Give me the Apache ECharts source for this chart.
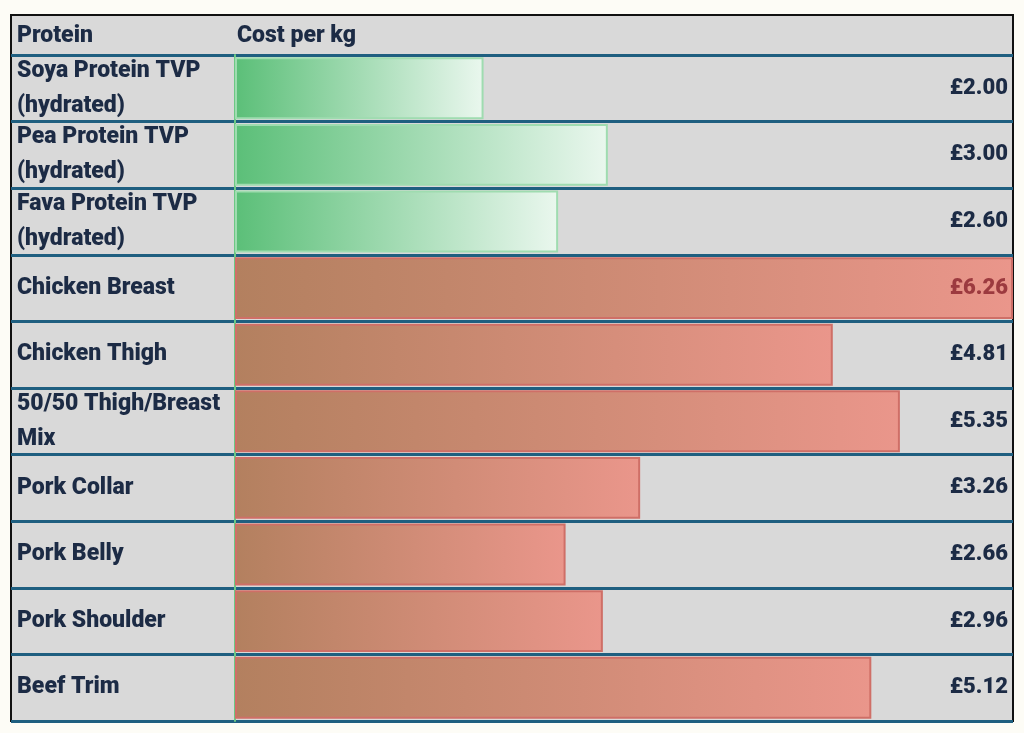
<!DOCTYPE html>
<html><head><meta charset="utf-8">
<script src="https://cdn.jsdelivr.net/npm/echarts@6/dist/echarts.min.js"></script>
<style>html,body{margin:0;padding:0;background:#fdfcf6}#c{width:1024px;height:733px}</style>
</head><body><div id="c"></div>
<script>
const categories = ['Soya Protein TVP\n(hydrated)','Pea Protein TVP\n(hydrated)','Fava Protein TVP\n(hydrated)','Chicken Breast','Chicken Thigh','50/50 Thigh/Breast\nMix','Pork Collar','Pork Belly','Pork Shoulder','Beef Trim'];
const costs = [2.00, 3.00, 2.60, 6.26, 4.81, 5.35, 3.26, 2.66, 2.96, 5.12];
const kinds = ['plant','plant','plant','meat','meat','meat','meat','meat','meat','meat'];
const headers = ['Protein','Cost per kg'];
const valueLabels = costs.map(v => '£' + v.toFixed(2));

const FONT = 'Roboto';
const TXT = '#1c2b45';
const SEP = '#1f5f80';

function grad(kind){
  return kind === 'plant'
    ? new echarts.graphic.LinearGradient(0,0,1,0,[{offset:0,color:'#5bbf78'},{offset:1,color:'#eaf7ee'}])
    : new echarts.graphic.LinearGradient(0,0,1,0,[{offset:0,color:'#b3805f'},{offset:1,color:'#ea968b'}]);
}
const maxIdx = costs.indexOf(Math.max(...costs));

const chart = echarts.init(document.getElementById('c'));
chart.setOption({
  backgroundColor:'#fdfcf6',
  animation:false,
  graphic:[
    {type:'rect', z:-10, shape:{x:11,y:15,width:1002,height:706}, style:{fill:'#d9d9d9', stroke:'#111', lineWidth:2}},
    {type:'text', left:17, top:25, style:{text:headers[0], font:'900 23px '+FONT, fill:TXT}},
    {type:'text', left:237, top:25, style:{text:headers[1], font:'900 23px '+FONT, fill:TXT}}
  ],
  grid:[
    {left:11, top:55, width:224, height:666},
    {left:235, top:55, right:11, height:666}
  ],
  xAxis:[
    {gridIndex:0, type:'value', show:false, min:0, max:1},
    {gridIndex:1, type:'value', show:false, min:0, max:6.26}
  ],
  yAxis:[
    {gridIndex:0, type:'category', data:categories, inverse:true,
     axisLine:{show:false}, axisTick:{show:false},
     splitLine:{show:true, lineStyle:{color:SEP, width:3}},
     axisLabel:{inside:true, margin:6, align:'left', interval:0, showMinLabel:true, showMaxLabel:true, hideOverlap:false,
       fontFamily:FONT, fontWeight:900, fontSize:23, color:TXT, lineHeight:35}},
    {gridIndex:1, type:'category', data:categories, inverse:true,
     axisLine:{show:true, lineStyle:{color:'#6cc884', width:2}}, axisTick:{show:false}, axisLabel:{show:false},
     splitLine:{show:true, lineStyle:{color:SEP, width:3}}},
    {gridIndex:1, type:'category', data:valueLabels, inverse:true, position:'right', z:10,
     axisLine:{show:false}, axisTick:{show:false},
     axisLabel:{inside:true, margin:5, interval:0, showMinLabel:true, showMaxLabel:true,
       fontFamily:FONT, fontWeight:900, fontSize:22,
       color:(v,i)=> i===maxIdx ? '#9c3a3f' : TXT}}
  ],
  series:[{
    type:'bar', xAxisIndex:1, yAxisIndex:1, barWidth:'93%', z:1,
    data: costs.map((v,i)=>({value:v, itemStyle:{color:grad(kinds[i]),
      borderColor: kinds[i]==='plant' ? '#9fdcb0' : '#cf6f67', borderWidth:2}}))
  }]
});
</script></body></html>
